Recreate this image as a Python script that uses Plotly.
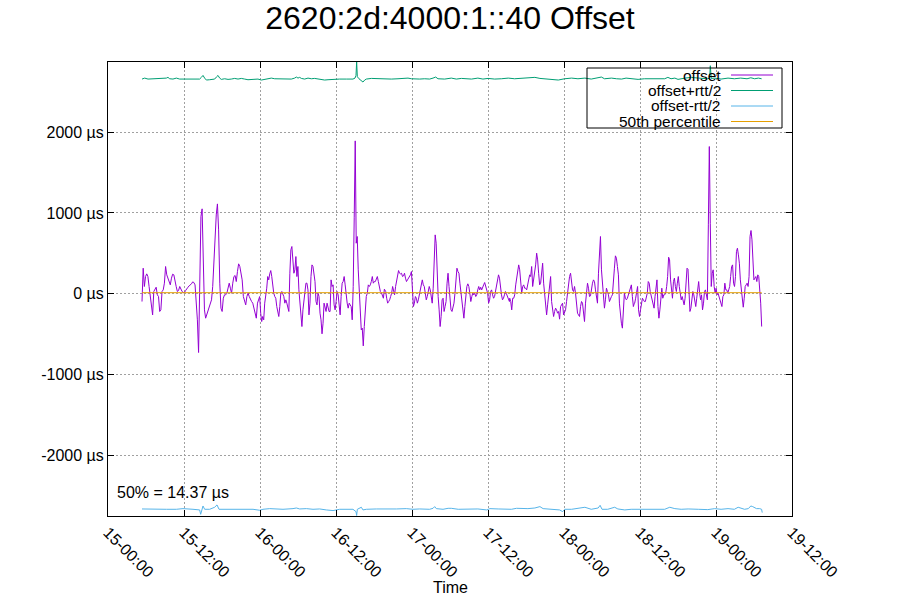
import numpy as np
import pandas as pd
import plotly.graph_objects as go

# ---------------- data ----------------
TITLE = "2620:2d:4000:1::40 Offset"
BASE = "2024-01-15 00:00"

# offset samples (µs), evenly spaced within each block; block start/end in hours after BASE
block_hours = [(5.37, 23.79), (23.95, 43.64), (43.69, 63.38), (63.43, 83.11), (83.16, 103.21)]
offset_b1 = [-95, 317, 91, 214, 247, 214, 91, -33, -198, -260, 29, 49, 82, -12, -33, -218, -198, 29, 49, 132,
             338, 235, 194, 152,
             111, 194, 243, 235, 132, 91, 29, 41, 91, 58, 29, 16, 16, 41, 70, 82, 99, 107, 124, 148, 140, 111, -115,
             -321, -725, 461, 956, 1051, 338, -198, -301, -260, -218, -177, -115, -74, 91, 441, 729, 976, 1112, 791,
             132, -177, -218,
             -54, -12, -12, 8, 91, 132, 70, 8, 132, 214, 227, 152, 276, 371, 338, 276, 173, -33, -107, -136, -33, 8,
             -33, -74, -95, -115, -177, -218, -301, -115, -74]
offset_b2 = [-33, -239, -342, -280, -321, -115, -33, 70, 214, 173, 247, 288, 214, 99, 8, -33, -54, -157, -218, -280,
             -157, 8, 29, -12, -33, -115, -74, -115, -157, -218, 255, 544, 585, 379, 255, 297, 461, 214, 338, 49,
             -115, -280, -404, -198, -74, 70, 132, 132, 49, -260, -115, 214, 358, 338, 255, 152, -95, -136, 8, -33,
             -239, -321, -494, -363, -115, -157, -218, -115, -177, -218, -218, 173, 91, 111, -136, -198, -95, 29, -12,
             -115, -260, -33, 132, 152, 214, 111, -54, -115, -177, -115, -136, -157, -321, 91, 948, 1891, 626, 709,
             297, 29, -280, -445, -424, -643, -404, -157, -33, 8, 111, 91, 111, 152, 214, 132, 152, 152, 194, 214,
             152, 91, 29, 16, -12, -54, 58]
offset_b3 = [49, 29, -54, -115, -95, -74, -33, 8, 91, 29, -12, 91, 152, 214, 288, 255, 247, 255, 214, 222, 255, 194,
             152, 173, 194, 214, 235, 276, 49, -157, -115, -33, -54, -115, -74, -12, 70, 111, 173, 111, 91, 8, -74,
             -33, 29, 91, 49, -12, -115, 70, 564, 729, 626, 235, -33, -198, -404, -280, -74, -54, -218, -157, -95,
             132, 255, 91, -74, -198, -218, -177, -115, 8, 214, 317, 276, 255, 132, 8, -115, -239, -301, -157, 8, 91,
             124, 91, 8, -95, -33, 8, -12, 8, -33, -12, 49, 91, 49, 82, 49, 91, 111, 140, 91, 49, 8, -115, -74, 29,
             49, -12, -54, -33, 49, 91, 152, 235, 194, 70, -12, -74, -54, -12, 29, 0, -33, -54, -95]
offset_b4 = [-54, -95, -198, -54, -54, -12, 111, 214, 297, 358, 297, 152, 8, 91, 111, 70, 70, 49, 124, 152, 235, 214,
             338, 91, 173, 317, 358, 503, 420, 255, 111, 132, 317, 379, 132, -12, -177, -260, -136, -12, 152, 214,
             -95, -218, -280, -218, -177, -198, -239, -218, -313, -157, -136, -115, -260, -231, -198, -95, 8, 132,
             214, 255, 132, 49, 29, 91, 8, -136, -239, -260, -280, -157, -95, -115, -239, -342, -115, 49, 132, 70,
             -33, -25, 91, 132, 173, 152, 49, -33, -115, 255, 585, 709, 297, 91, -74, -177, -74, 70, 29, -12, -95,
             -54, -33, -12, 111, 317, 470, 441, 338, 235, -115, -260, -363, -424, -218, 8, -54, -74, -54, -12, 49,
             91, 111, -33, -157, -115]
offset_b5 = [-115, -54, 49, 91, -198, -280, -198, -95, -54, -74, -95, -95, -54, 8, 152, 132, 29, -33, -74, -157, -177,
             -33, 132, 173, -157, -301, -198, -33, 70, -54, -12, -12, 8, 91, 214, 453, 420, 173, 49, -54, 152, 194,
             91, 29, 132, 214, 91, -33, -74, -33, -74, -136, -54, 132, 317, 305, -74, -218, -177, -74, 29, -12, -115,
             -157, -54, 49, 152, 8, -74, -12, -198, -115, 29, 49, -33, -74, 853, 1821, 873, 91, 255, 297, 91, 8, 70,
             -12, 8, -33, -74, -115, -157, -33, -12, 132, 49, 49, 8, 49, 91, 214, 338, 358, 132, 91, 214, 523, 564,
             482, 379, 173, 49, -115, -165, -54, 91, 111, 132, 91, 214, 709, 783, 667, 379, 173, 194, 214, 152, 235,
             214, 70, -115, -404]
offset_blocks = [offset_b1, offset_b2, offset_b3, offset_b4, offset_b5]

# offset + rtt/2 (hours, µs)
plus_hours = [5.37, 5.79, 6.32, 7.11, 7.89, 8.68, 9.21, 9.47, 9.74, 10.26, 10.79, 11.32, 12.37, 13.42, 14.47, 14.74,
              15.0, 15.26, 15.53, 16.05, 16.84, 17.11, 17.37, 17.63, 17.89, 18.42, 18.95, 19.47, 20.0, 20.53, 21.05,
              21.58, 22.1, 22.9, 23.68, 24.21, 24.74, 25.26, 25.79, 26.32, 27.11, 27.9, 28.42, 28.95, 29.47, 29.74,
              30.0, 30.26, 30.53, 31.05, 31.58, 32.11, 32.63, 33.16, 33.68, 34.21, 34.74, 35.26, 35.79, 36.58, 37.63,
              38.68, 39.0, 39.16, 39.26, 39.37, 39.63, 40.0, 40.26, 40.53, 40.79, 41.58, 42.37, 43.16, 43.95, 44.74,
              45.79, 46.84, 47.37, 47.9, 48.42, 49.21, 50.0, 50.79, 51.32, 51.74, 52.1, 52.63, 53.16, 54.21, 55.0,
              55.8, 56.6, 57.4, 58.4, 59.2, 60.0, 61.05, 62.1, 63.2, 64.2, 65.3, 66.3, 67.4, 68.2, 68.95, 70.0, 71.1,
              72.1, 73.2, 74.2, 75.3, 76.3, 77.4, 77.9, 78.4, 79.5, 80.3, 81.1, 81.8, 82.6, 83.7, 84.7, 85.8, 86.8,
              87.9, 88.4, 88.9, 89.5, 90.0, 91.1, 92.1, 93.2, 94.7, 95.0, 95.1, 95.25, 95.8, 96.8, 97.9, 98.9, 99.9,
              100.9, 101.5, 102.1, 102.7, 103.2]
plus_vals = [2655, 2667, 2655, 2659, 2655, 2659, 2667, 2676, 2659, 2655, 2667, 2655, 2655, 2655, 2655, 2676, 2700,
             2667, 2643, 2647, 2655, 2680, 2700, 2667, 2651, 2659, 2651, 2655, 2663, 2655, 2663, 2655, 2647, 2651,
             2655, 2643, 2651, 2663, 2667, 2659, 2655, 2659, 2651, 2655, 2667, 2680, 2667, 2676, 2663, 2655, 2667,
             2659, 2663, 2655, 2651, 2643, 2647, 2651, 2655, 2655, 2655, 2655, 2667, 2700, 2866, 2684, 2659, 2634,
             2618, 2643, 2655, 2663, 2659, 2655, 2659, 2655, 2659, 2663, 2667, 2659, 2655, 2655, 2659, 2655, 2667,
             2680, 2659, 2655, 2655, 2667, 2655, 2663, 2655, 2655, 2667, 2655, 2663, 2655, 2659, 2667, 2659, 2663,
             2667, 2676, 2663, 2659, 2655, 2643, 2659, 2667, 2659, 2667, 2655, 2667, 2680, 2659, 2667, 2659, 2655,
             2667, 2659, 2651, 2659, 2659, 2667, 2659, 2676, 2659, 2667, 2651, 2667, 2676, 2667, 2659, 2667, 2820,
             2663, 2667, 2655, 2667, 2659, 2667, 2659, 2671, 2659, 2667, 2659]

# offset - rtt/2 (hours, µs)
minus_hours = [5.37, 6.58, 7.63, 9.21, 10.79, 11.84, 13.42, 14.47, 14.63, 14.79, 15.0, 15.26, 16.05, 16.84, 17.21,
               17.53, 18.68, 19.74, 20.79, 21.84, 22.9, 23.95, 24.47, 25.53, 26.58, 27.63, 29.21, 29.74, 30.26, 31.32,
               32.37, 33.42, 34.47, 35.53, 36.58, 37.63, 38.68, 39.16, 39.26, 39.37, 40.0, 40.26, 40.79, 42.37, 43.95,
               45.53, 47.1, 48.16, 49.21, 50.79, 51.32, 51.58, 51.84, 52.9, 53.7, 54.2, 55.3, 56.3, 57.4, 58.4, 59.8,
               60.3, 61.6, 62.6, 63.7, 64.5, 65.3, 66.3, 67.4, 68.2, 68.7, 69.5, 70.5, 71.3, 71.8, 72.1, 73.2, 74.2,
               75.3, 76.3, 77.4, 77.7, 78.0, 78.9, 80.0, 80.5, 81.6, 82.6, 83.7, 84.7, 85.8, 86.8, 87.9, 88.7, 89.5,
               90.5, 91.6, 93.2, 94.7, 95.8, 96.8, 97.9, 98.9, 99.5, 100.0, 100.5, 101.1, 101.5, 101.8, 102.4, 102.9,
               103.2, 103.3]
minus_vals = [-2659, -2663, -2659, -2663, -2663, -2655, -2663, -2671, -2725, -2663, -2622, -2663, -2663, -2638, -2609,
              -2663, -2663, -2659, -2663, -2655, -2663, -2675, -2663, -2655, -2659, -2663, -2655, -2647, -2659, -2655,
              -2663, -2659, -2671, -2679, -2663, -2663, -2663, -2692, -2740, -2663, -2638, -2671, -2663, -2659, -2663,
              -2659, -2655, -2663, -2659, -2663, -2651, -2630, -2655, -2663, -2651, -2651, -2663, -2659, -2663, -2659,
              -2671, -2655, -2659, -2663, -2663, -2651, -2655, -2655, -2647, -2630, -2655, -2659, -2663, -2671, -2692,
              -2663, -2663, -2655, -2638, -2663, -2647, -2614, -2663, -2663, -2638, -2659, -2671, -2663, -2663, -2667,
              -2663, -2659, -2663, -2638, -2655, -2663, -2659, -2663, -2667, -2655, -2663, -2655, -2663, -2638, -2655,
              -2663, -2655, -2622, -2630, -2655, -2655, -2663, -2704]

percentile_50 = 14.37
y_tickvals = [-2000, -1000, 0, 1000, 2000]
y_ticktext = ["-2000 µs", "-1000 µs", "0 µs", "1000 µs", "2000 µs"]
x_tick_hours = [0, 12, 24, 36, 48, 60, 72, 84, 96, 108]
x_ticktext = ["15-00:00", "15-12:00", "16-00:00", "16-12:00", "17-00:00",
              "17-12:00", "18-00:00", "18-12:00", "19-00:00", "19-12:00"]
legend_names = ["offset", "offset+rtt/2", "offset-rtt/2", "50th percentile"]
colors = ["#9400d3", "#009e73", "#56b4e9", "#e69f00"]
y_range = [-2746, 2866]

# ---------------- build ----------------
base = pd.Timestamp(BASE)


def at(hours):
    return base + pd.to_timedelta(np.asarray(hours, dtype=float), unit="h")


off_t, off_v = [], []
for (h0, h1), vals in zip(block_hours, offset_blocks):
    off_t.extend(at(np.linspace(h0, h1, len(vals))))
    off_v.extend(vals)

FONT = "Liberation Sans, Arial, sans-serif"
fig = go.Figure()
fig.add_trace(go.Scatter(x=off_t, y=off_v, mode="lines", line=dict(color=colors[0], width=1), name=legend_names[0]))
fig.add_trace(go.Scatter(x=at(plus_hours), y=plus_vals, mode="lines", line=dict(color=colors[1], width=1),
                         name=legend_names[1]))
fig.add_trace(go.Scatter(x=at(minus_hours), y=minus_vals, mode="lines", line=dict(color=colors[2], width=1),
                         name=legend_names[2]))
fig.add_trace(go.Scatter(x=[off_t[0], off_t[-1]], y=[percentile_50, percentile_50], mode="lines",
                         line=dict(color=colors[3], width=1), name=legend_names[3]))

# layout geometry (pixels)
W, H = 900, 600
L, R, T, B = 108, 792, 62, 516
pw, ph = R - L, B - T


def px(x):
    return (x - L) / pw


def py(y):
    return (B - y) / ph


fig.update_layout(
    width=W, height=H, showlegend=False,
    margin=dict(l=L, r=W - R, t=T, b=H - B, pad=0),
    paper_bgcolor="white", plot_bgcolor="white",
    font=dict(family=FONT, size=16, color="black"),
    title=dict(text=TITLE, x=0.5, xanchor="center", y=1 - 18 / H, yanchor="middle",
               font=dict(size=32, family=FONT, color="black")),
)
fig.update_xaxes(
    type="date", range=[base, base + pd.Timedelta(hours=108)],
    tickvals=list(at(x_tick_hours)), ticktext=x_ticktext, tickangle=45,
    showgrid=True, gridcolor="#a0a0a0", griddash="2px,2px", gridwidth=1,
    showline=True, linecolor="black", linewidth=1, mirror="ticks",
    ticks="inside", ticklen=6, tickcolor="black", zeroline=False,
    tickfont=dict(size=16, family=FONT),
)
fig.update_yaxes(
    range=y_range, tickvals=y_tickvals, ticktext=y_ticktext,
    showgrid=True, gridcolor="#a0a0a0", griddash="2px,2px", gridwidth=1,
    showline=True, linecolor="black", linewidth=1, mirror="ticks",
    ticks="inside", ticklen=6, tickcolor="black", zeroline=False,
    tickfont=dict(size=16, family=FONT),
)

annotations = [
    dict(text="Time", xref="paper", yref="paper", x=0.5, y=py(587), xanchor="center", yanchor="middle",
         showarrow=False, font=dict(size=16, family=FONT)),
    dict(text=f"50% = {percentile_50:.2f} µs", xref="paper", yref="paper", x=px(115), y=py(492),
         xanchor="left", yanchor="middle", showarrow=False, font=dict(size=16, family=FONT)),
]
shapes = [dict(type="rect", xref="paper", yref="paper", x0=px(587), x1=px(782), y0=py(128), y1=py(68),
               line=dict(color="black", width=1), fillcolor="rgba(0,0,0,0)")]
row_y = [75, 90.5, 106, 121.5]
for name, col, yy in zip(legend_names, colors, row_y):
    annotations.append(dict(text=name, xref="paper", yref="paper", x=px(722), y=py(yy), xanchor="right",
                            yanchor="middle", showarrow=False, borderpad=0,
                            font=dict(size=15.5, family=FONT)))
    shapes.append(dict(type="line", xref="paper", yref="paper", x0=px(731), x1=px(773), y0=py(yy), y1=py(yy),
                       line=dict(color=col, width=1)))
fig.update_layout(annotations=annotations, shapes=shapes)

fig.write_html("out.html", config={"displayModeBar": False},
               post_script="document.body.style.margin='0';")
